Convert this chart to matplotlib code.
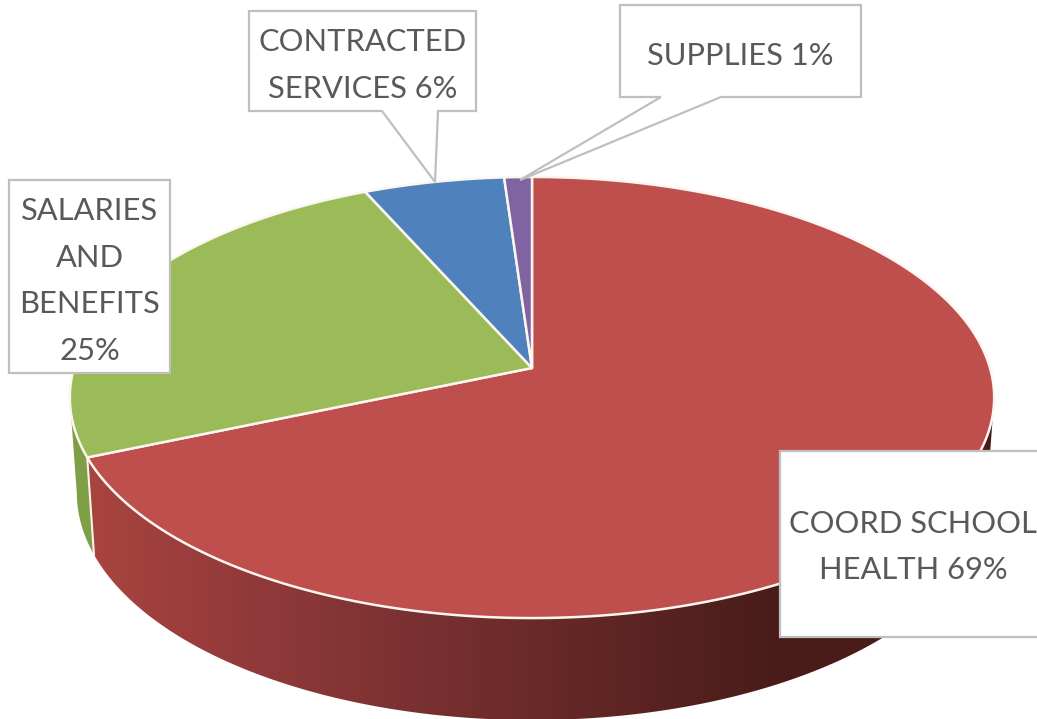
import numpy as np
import matplotlib
matplotlib.use('Agg')
import matplotlib.pyplot as plt
from matplotlib.colors import LinearSegmentedColormap
from matplotlib.patches import Polygon

categories = ['COORD SCHOOL\nHEALTH 69%', 'SALARIES\nAND\nBENEFITS\n25%', 'CONTRACTED\nSERVICES 6%', 'SUPPLIES 1%']
values = [68.6, 24.7, 5.6, 1.1]
colors = ['#BE4F4D', '#9BBB59', '#4F81BD', '#8064A2']
side_colors = ['#A5423F', '#7F9F47', '#3F6797', '#664F81']

plt.rcParams['font.family'] = ['Lato', 'DejaVu Sans']

# pie geometry in pixels
apex_x, apex_y = 532, 368
persp = 0.1338
top_cy, top_a, top_b = 397.5, 462, 220.5
low_cy, low_a, low_b = 493, 455, 227


def rim(theta):
    x = np.sin(theta)
    y = np.cos(theta)
    w = 1 + persp * y
    return apex_x + 458 * x / w, apex_y - 216.6 * y / w


def lower_rim(px, py):
    s = (px - apex_x) / top_a
    c = (top_cy - py) / top_b
    return apex_x + low_a * s, low_cy - low_b * c


fig = plt.figure(figsize=(10.37, 7.19), dpi=100)
ax = fig.add_axes([0, 0, 1, 1])

edges = np.cumsum([0] + values) / sum(values) * 2 * np.pi

# side walls first
for i in range(len(values)):
    th = np.linspace(edges[i], edges[i + 1], 400)
    px, py = rim(th)
    keep = py >= top_cy
    if keep.sum() < 2:
        continue
    px, py = px[keep], py[keep]
    lx, ly = lower_rim(px, py)
    pts = np.column_stack([np.r_[px, lx[::-1]], np.r_[py, ly[::-1]]])
    if i == 0:
        # red wall runs dark towards the right
        poly = Polygon(pts, closed=True, fc='none', ec='none', transform=ax.transData)
        ax.add_patch(poly)
        cmap = LinearSegmentedColormap.from_list('wall', [
            (0.0, '#A8443F'), (0.19, '#90393A'), (0.45, '#6F2C2C'),
            (0.68, '#52201D'), (0.75, '#4B1D1A'), (1.0, '#4A1C19')])
        im = ax.imshow(np.linspace(0, 1, 512)[None, :], cmap=cmap, aspect='auto',
                       extent=[88, 994, 719, 380], zorder=1)
        im.set_clip_path(poly)
    else:
        ax.add_patch(Polygon(pts, closed=True, fc=side_colors[i], ec='none', zorder=1))

# white seam between green and red walls
sx, sy = rim(edges[1])
lx, ly = lower_rim(sx, sy)
ax.plot([sx, lx], [sy, ly], color='#FBF3EA', lw=1.5, zorder=2)

# top faces
for i in range(len(values)):
    th = np.linspace(edges[i], edges[i + 1], 300)
    px, py = rim(th)
    pts = np.column_stack([np.r_[apex_x, px], np.r_[apex_y, py]])
    ax.add_patch(Polygon(pts, closed=True, fc=colors[i], ec='#FBF6F0', lw=1.8, zorder=3,
                         joinstyle='round'))

# label boxes, callouts have a pointer
box_ec = '#BFBFBF'
boxes = [
    [(780, 451), (1045, 451), (1045, 637), (780, 637)],
    [(9, 180), (170, 180), (170, 373), (9, 373)],
    [(249, 11), (476, 11), (476, 111), (438, 111), (435, 182), (382, 111), (249, 111)],
    [(620, 5), (861, 5), (861, 97), (721, 97), (520, 180), (661, 97), (620, 97)],
]
for b in boxes:
    ax.add_patch(Polygon(b, closed=True, fc='white', ec=box_ec, lw=1.6, zorder=4,
                         joinstyle='miter'))

label_pos = [(913, 547), (90, 281), (363, 65.5), (740, 56)]
for lab, (tx, ty) in zip(categories, label_pos):
    ax.text(tx, ty, lab, ha='center', va='center', color='#595959', fontsize=22.2,
            linespacing=1.8, zorder=5)

ax.set_xlim(0, 1037)
ax.set_ylim(719, 0)
ax.axis('off')
fig.savefig('out.png', dpi=100)
